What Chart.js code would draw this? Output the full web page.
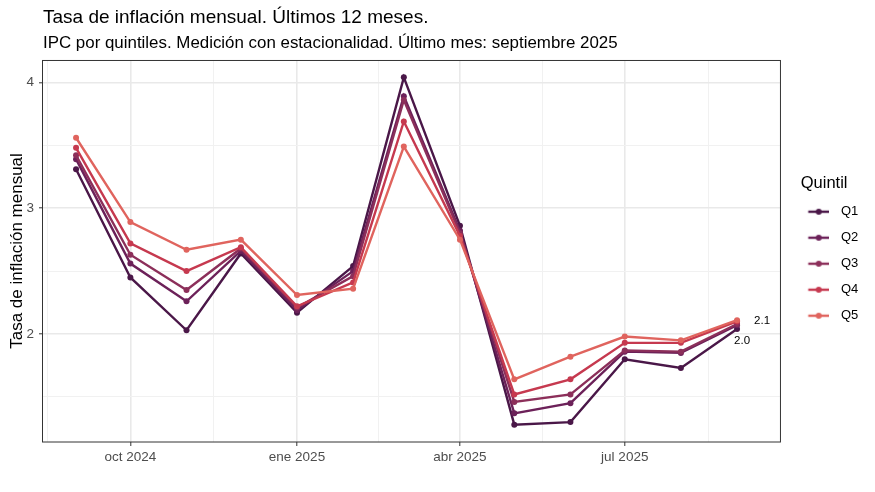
<!DOCTYPE html>
<html lang="es">
<head>
<meta charset="utf-8">
<script src="https://cdn.jsdelivr.net/npm/chart.js@4.4.1/dist/chart.umd.min.js"></script>
<style>
  html, body { margin: 0; padding: 0; background: #fff; }
  #wrap { width: 875px; height: 492px; position: relative; }
</style>
</head>
<body>
<div id="wrap"><canvas id="chart"></canvas></div>
<script>
// months (first day of each month)
const months = ['2024-09', '2024-10', '2024-11', '2024-12', '2025-01', '2025-02', '2025-03',
                '2025-04', '2025-05', '2025-06', '2025-07', '2025-08', '2025-09'];

// monthly inflation rate by quintile
const q1 = [3.31, 2.45, 2.03, 2.64, 2.17, 2.54, 4.04, 2.86, 1.28, 1.30, 1.80, 1.73, 2.04];
const q2 = [3.39, 2.56, 2.26, 2.66, 2.19, 2.50, 3.89, 2.82, 1.37, 1.45, 1.86, 1.85, 2.07];
const q3 = [3.42, 2.63, 2.35, 2.68, 2.21, 2.46, 3.86, 2.80, 1.46, 1.52, 1.87, 1.86, 2.08];
const q4 = [3.48, 2.72, 2.50, 2.69, 2.22, 2.41, 3.69, 2.78, 1.52, 1.64, 1.93, 1.93, 2.10];
const q5 = [3.56, 2.89, 2.67, 2.75, 2.31, 2.36, 3.49, 2.75, 1.64, 1.82, 1.98, 1.95, 2.11];

const quintiles = ['Q1', 'Q2', 'Q3', 'Q4', 'Q5'];
const series = [q1, q2, q3, q4, q5];
const colors = ['#4a1748', '#6c2159', '#8c2f5a', '#c6394f', '#e0645e'];

// x axis breaks
const tickMonths = ['2024-10', '2025-01', '2025-04', '2025-07'];
const tickLabels = ['oct 2024', 'ene 2025', 'abr 2025', 'jul 2025'];
const breakMonths = ['2024-07', '2024-10', '2025-01', '2025-04', '2025-07', '2025-10'];

// y axis breaks
const yMajor = [2, 3, 4];
const yMinor = [1.5, 2.5, 3.5];

const toDay = m => {
    const [y, mo] = m.split('-').map(Number);
    return Date.UTC(y, mo - 1, 1) / 86400000;
};

const xDays = months.map(toDay);
const xMin = xDays[0] - 18.25;
const xMax = xDays[xDays.length - 1] + 23.7;
const xMajor = tickMonths.map(toDay);
const breakDays = breakMonths.map(toDay);
const xMinor = breakDays.slice(1).map((d, i) => (d + breakDays[i]) / 2)
    .filter(d => d > xMin && d < xMax);

const FONT = "'Liberation Sans', Arial, sans-serif";

// legend key: short line with a dot
function keyImage(color) {
    const c = document.createElement('canvas');
    c.width = 30;
    c.height = 8;
    const g = c.getContext('2d');
    g.strokeStyle = color;
    g.lineWidth = 2.4;
    g.beginPath();
    g.moveTo(9.5, 4);
    g.lineTo(30, 4);
    g.stroke();
    g.fillStyle = color;
    g.beginPath();
    g.arc(20, 4, 3, 0, Math.PI * 2);
    g.fill();
    return c;
}

// panel border + end-of-line labels
const panelPlugin = {
    id: 'panel',
    afterDatasetsDraw(chart) {
        const { ctx, chartArea: a } = chart;
        ctx.save();
        ctx.strokeStyle = '#333333';
        ctx.lineWidth = 1;
        ctx.strokeRect(a.left - 0.5, a.top + 0.5, a.right - a.left + 1, a.bottom - a.top - 0.5);

        ctx.fillStyle = '#000';
        ctx.font = '11.5px ' + FONT;
        ctx.textAlign = 'left';
        ctx.textBaseline = 'middle';
        const last = months.length - 1;
        const p5 = chart.getDatasetMeta(4).data[last];
        ctx.fillText(q5[last].toFixed(1), p5.x + 17, p5.y + 0.5);
        const p1 = chart.getDatasetMeta(0).data[last];
        ctx.fillText(q1[last].toFixed(1), p1.x - 3, p1.y + 12);
        ctx.restore();
    }
};

const isMajorX = v => xMajor.includes(v);
const isMajorY = v => yMajor.includes(v);

new Chart(document.getElementById('chart'), {
    type: 'line',
    data: {
        datasets: quintiles.map((q, i) => ({
            label: q,
            data: xDays.map((d, j) => ({ x: d, y: series[i][j] })),
            borderColor: colors[i],
            backgroundColor: colors[i],
            borderWidth: 2.4,
            pointRadius: 3,
            pointHoverRadius: 3,
            pointBorderWidth: 0,
            tension: 0,
            order: quintiles.length - i
        }))
    },
    options: {
        responsive: true,
        maintainAspectRatio: false,
        animation: false,
        events: [],
        layout: { padding: { top: 0, right: 6.7, bottom: 0, left: 0 } },
        scales: {
            x: {
                type: 'linear',
                min: xMin,
                max: xMax,
                afterBuildTicks: s => {
                    s.ticks = xMinor.concat(xMajor).sort((a, b) => a - b).map(v => ({ value: v }));
                },
                afterFit: s => { s.height = 50; },
                ticks: {
                    autoSkip: false,
                    maxRotation: 0,
                    padding: 3,
                    color: '#4d4d4d',
                    font: { family: FONT, size: 13.5 },
                    callback: v => {
                        const k = xMajor.indexOf(v);
                        return k >= 0 ? tickLabels[k] : '';
                    }
                },
                grid: {
                    color: c => (c.tick && isMajorX(c.tick.value)) ? '#e9e9e9' : '#f1f1f1',
                    lineWidth: c => (c.tick && isMajorX(c.tick.value)) ? 1.6 : 1,
                    tickColor: c => (c.tick && isMajorX(c.tick.value)) ? '#333333' : 'rgba(0,0,0,0)',
                    tickLength: 4,
                    tickWidth: 1
                },
                border: { display: false }
            },
            y: {
                type: 'linear',
                min: 1.142,
                max: 4.178,
                afterBuildTicks: s => {
                    s.ticks = yMinor.concat(yMajor).sort((a, b) => a - b).map(v => ({ value: v }));
                },
                afterFit: s => { s.width = 43; },
                title: {
                    display: true,
                    text: 'Tasa de inflación mensual',
                    color: '#000',
                    font: { family: FONT, size: 17 },
                    padding: { top: 6.8, bottom: 0 }
                },
                ticks: {
                    padding: 5,
                    color: '#4d4d4d',
                    font: { family: FONT, size: 13.5 },
                    callback: v => isMajorY(v) ? String(v) : ''
                },
                grid: {
                    color: c => (c.tick && isMajorY(c.tick.value)) ? '#e9e9e9' : '#f1f1f1',
                    lineWidth: c => (c.tick && isMajorY(c.tick.value)) ? 1.6 : 1,
                    tickColor: c => (c.tick && isMajorY(c.tick.value)) ? '#333333' : 'rgba(0,0,0,0)',
                    tickLength: 4,
                    tickWidth: 1
                },
                border: { display: false }
            }
        },
        plugins: {
            title: {
                display: true,
                text: 'Tasa de inflación mensual. Últimos 12 meses.',
                align: 'start',
                fullSize: false,
                color: '#000',
                font: { family: FONT, size: 19, weight: 'normal' },
                padding: { top: 6.6, bottom: 0 }
            },
            subtitle: {
                display: true,
                text: 'IPC por quintiles. Medición con estacionalidad. Último mes: septiembre 2025',
                align: 'start',
                fullSize: false,
                color: '#000',
                font: { family: FONT, size: 16.9 },
                padding: { top: 3.4, bottom: 6.9 }
            },
            legend: {
                position: 'right',
                align: 'center',
                title: {
                    display: true,
                    text: 'Quintil',
                    color: '#000',
                    font: { family: FONT, size: 16.5 },
                    padding: { top: 18, bottom: -2.4 }
                },
                labels: {
                    usePointStyle: true,
                    pointStyleWidth: 41.5,
                    padding: 13,
                    color: '#000',
                    font: { family: FONT, size: 13 },
                    generateLabels: chart => chart.data.datasets.map((ds, i) => ({
                        text: ds.label,
                        pointStyle: keyImage(colors[i]),
                        fillStyle: colors[i],
                        strokeStyle: colors[i],
                        lineWidth: 0,
                        hidden: false,
                        datasetIndex: i
                    }))
                }
            },
            tooltip: { enabled: false }
        }
    },
    plugins: [panelPlugin]
});
</script>
</body>
</html>
